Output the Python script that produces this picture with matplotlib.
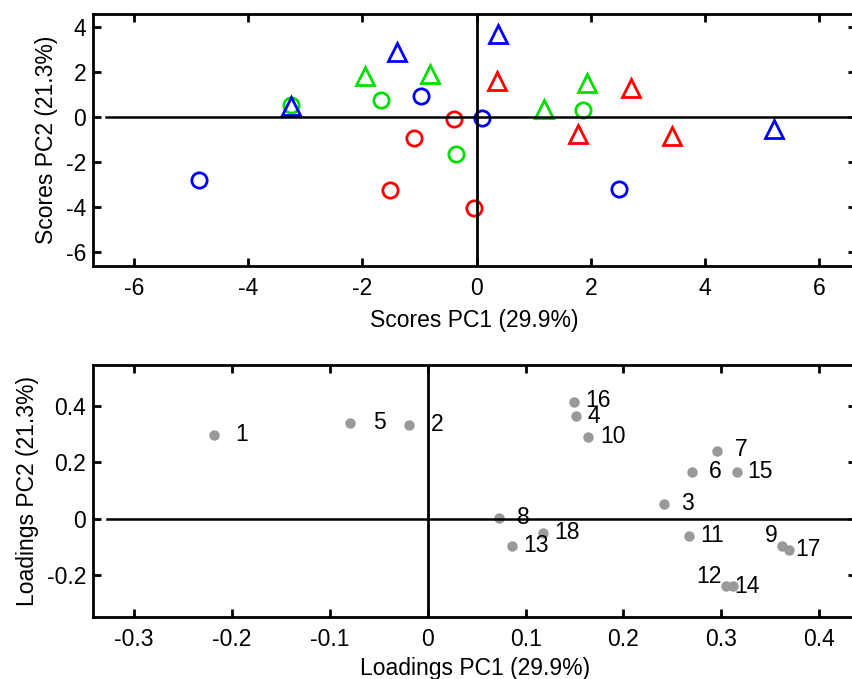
import matplotlib.pyplot as plt
import numpy as np

plt.rcParams['font.family'] = ['Liberation Sans', 'DejaVu Sans']
plt.rcParams['axes.unicode_minus'] = False

# scores, by group (colour) and marker
red_circ_x = [-1.09, -1.51, -0.40, -0.04]
red_circ_y = [-0.94, -3.22, -0.07, -4.05]
red_tri_x = [0.35, 2.70, 1.77, 3.42]
red_tri_y = [1.60, 1.28, -0.75, -0.85]
green_circ_x = [-3.26, -1.67, -0.37, 1.86]
green_circ_y = [0.55, 0.78, -1.65, 0.33]
green_tri_x = [-1.95, -0.82, 1.18, 1.93]
green_tri_y = [1.83, 1.90, 0.36, 1.52]
blue_circ_x = [-4.86, -0.98, 0.10, 2.50]
blue_circ_y = [-2.80, 0.95, -0.03, -3.20]
blue_tri_x = [-3.25, -1.40, 0.37, 5.21]
blue_tri_y = [0.50, 2.92, 3.72, -0.53]

# loadings
load_labels = ['1', '2', '3', '4', '5', '6', '7', '8', '9', '10', '11', '12',
               '13', '14', '15', '16', '17', '18']
load_x = [-0.218, -0.019, 0.241, 0.151, -0.079, 0.270, 0.296, 0.073, 0.362,
          0.164, 0.267, 0.305, 0.086, 0.312, 0.316, 0.149, 0.369, 0.118]
load_y = [0.297, 0.333, 0.053, 0.365, 0.340, 0.166, 0.240, 0.003, -0.096,
          0.290, -0.060, -0.240, -0.096, -0.240, 0.166, 0.414, -0.110, -0.050]
# label offsets in points
offsets = {'1': (15, 0), '2': (16, 0), '3': (12.5, 0), '4': (8.5, -0.5), '5': (16, 0),
           '6': (12.5, 0), '7': (12.5, 1), '8': (13, 0), '9': (-3, 7), '10': (8.5, 0),
           '11': (8, 0), '12': (-3, 7), '13': (8, 0), '14': (1, 0), '15': (7.5, 0),
           '16': (8.5, 1), '17': (4.5, 0), '18': (8, 0)}

fig = plt.figure(figsize=(8.53, 6.79), dpi=100)
ax1 = fig.add_axes([0.109, 0.608, 0.895, 0.371])
ax2 = fig.add_axes([0.109, 0.0913, 0.895, 0.3711])

kw = dict(linestyle='none', markerfacecolor='none', markeredgewidth=2.0)
for xs, ys, c in [(red_circ_x, red_circ_y, '#ff0000'), (green_circ_x, green_circ_y, '#00e000'),
                  (blue_circ_x, blue_circ_y, '#0000ff')]:
    ax1.plot(xs, ys, 'o', markersize=11, markeredgecolor=c, **kw)
for xs, ys, c in [(red_tri_x, red_tri_y, '#ff0000'), (green_tri_x, green_tri_y, '#00e000'),
                  (blue_tri_x, blue_tri_y, '#0000ff')]:
    ax1.plot(xs, ys, '^', markersize=13, markeredgecolor=c, **kw)

ax1.plot([-6.5, 6.5], [0, 0], color='black', linewidth=1.8, zorder=3)
ax1.axvline(0, color='black', linewidth=2.0, zorder=3)
ax1.set_xlim(-6.72, 6.65)
ax1.set_ylim(-6.63, 4.58)
ax1.set_xticks([-6, -4, -2, 0, 2, 4, 6])
ax1.set_yticks([-6, -4, -2, 0, 2, 4])
ax1.set_xlabel('Scores PC1 (29.9%)', fontsize=16.5, labelpad=6)
ax1.set_ylabel('Scores PC2 (21.3%)', fontsize=16.5, labelpad=5.5)

ax2.plot(load_x, load_y, 'o', color='#999999', markersize=6.5, linestyle='none')
for lab, x, y in zip(load_labels, load_x, load_y):
    ha = 'right' if lab in ('9', '12') else 'left'
    ax2.annotate(lab, (x, y), xytext=offsets[lab], textcoords='offset points',
                 ha=ha, va='center', fontsize=16.5)
ax2.plot([-0.328, 0.429], [0, 0], color='black', linewidth=1.8, zorder=3)
ax2.axvline(0, color='black', linewidth=2.0, zorder=3)
ax2.set_xlim(-0.342, 0.438)
ax2.set_ylim(-0.349, 0.545)
ax2.set_xticks([-0.3, -0.2, -0.1, 0, 0.1, 0.2, 0.3, 0.4])
ax2.set_xticklabels(['-0.3', '-0.2', '-0.1', '0', '0.1', '0.2', '0.3', '0.4'])
ax2.set_yticks([-0.2, 0, 0.2, 0.4])
ax2.set_yticklabels(['-0.2', '0', '0.2', '0.4'])
ax2.set_xlabel('Loadings PC1 (29.9%)', fontsize=16.5, labelpad=4)
ax2.set_ylabel('Loadings PC2 (21.3%)', fontsize=16.5, labelpad=5.5)

for ax in (ax1, ax2):
    for s in ax.spines.values():
        s.set_linewidth(2.0)
    ax.tick_params(direction='in', length=5.5, width=2, labelsize=16.5,
                   top=True, right=True)
    ax.tick_params(axis='x', pad=8)
    ax.tick_params(axis='y', pad=5)

fig.savefig('out.png', dpi=100)
plt.close(fig)
